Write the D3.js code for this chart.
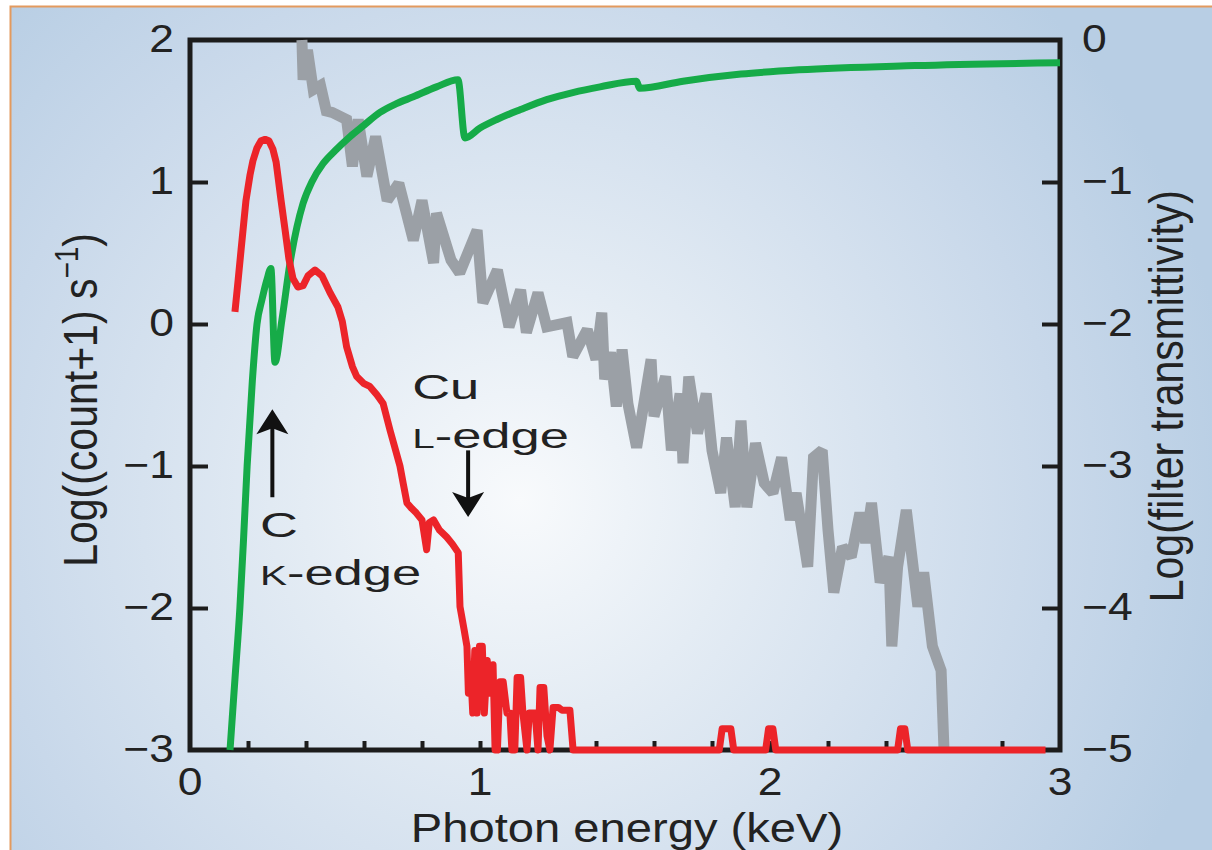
<!DOCTYPE html>
<html>
<head>
<meta charset="utf-8">
<script src="https://cdn.jsdelivr.net/npm/d3@7"></script>
<style>
  body { margin: 0; background: #fff; }
  svg { display: block; font-family: "Liberation Sans", Arial, Helvetica, sans-serif; }
  .tick-label { font-size: 38px; fill: #222; }
  .axis-title { font-size: 41px; fill: #222; }
  .note { font-size: 35px; fill: #222; }
</style>
</head>
<body>
<div id="chart-area"></div>
<script>
var W = 1212, H = 850;
var margin = { left: 190, right: 152, top: 40, bottom: 100 };
var width = W - margin.left - margin.right;   // 870
var height = H - margin.top - margin.bottom;  // 710
var stretch = 1.17;  // the original lettering is a wide face

// tick labels
var xTicks = [0, 1, 2, 3];
var xMinorTicks = [0.2, 0.4, 0.6, 0.8, 1, 1.2, 1.4, 1.6, 1.8, 2, 2.2, 2.4, 2.6, 2.8];
var leftTicks = [2, 1, 0, -1, -2, -3];
var rightTicks = [0, -1, -2, -3, -4, -5];

// measured spectrum, log((count+1)/s) vs keV
var redSpectrum = [
  [0.155, 0.085], [0.166, 0.31], [0.176, 0.52], [0.193, 0.87], [0.207, 1.05], [0.217, 1.15],
  [0.231, 1.24], [0.245, 1.29], [0.259, 1.3], [0.272, 1.29], [0.286, 1.23], [0.297, 1.14],
  [0.314, 0.87], [0.328, 0.66], [0.341, 0.46], [0.355, 0.32], [0.372, 0.26], [0.39, 0.27],
  [0.407, 0.34], [0.431, 0.38], [0.455, 0.34], [0.483, 0.22], [0.51, 0.12], [0.525, 0.02],
  [0.54, -0.16], [0.56, -0.3], [0.575, -0.37], [0.6, -0.42], [0.62, -0.44], [0.645, -0.5],
  [0.666, -0.56], [0.69, -0.75], [0.705, -0.86], [0.724, -1.0], [0.735, -1.12], [0.748, -1.26],
  [0.765, -1.3], [0.78, -1.33], [0.8, -1.38], [0.816, -1.59], [0.825, -1.4], [0.84, -1.38],
  [0.86, -1.45], [0.885, -1.5], [0.905, -1.55], [0.925, -1.61],
  [0.931, -1.99], [0.945, -2.15], [0.955, -2.27], [0.96, -2.6], [0.967, -2.4], [0.975, -2.74],
  [0.982, -2.3], [0.99, -2.74], [0.998, -2.27], [1.008, -2.27], [1.015, -2.74], [1.025, -2.37],
  [1.035, -2.6], [1.045, -2.4], [1.052, -3.0], [1.06, -3.0], [1.069, -2.52], [1.08, -2.52],
  [1.093, -2.74], [1.103, -2.74], [1.11, -3.0], [1.12, -3.0], [1.128, -2.49], [1.14, -2.49],
  [1.148, -2.74], [1.162, -3.0], [1.17, -2.74], [1.19, -2.74], [1.2, -3.0], [1.207, -2.56],
  [1.22, -2.56], [1.231, -2.9], [1.241, -3.0], [1.252, -2.7], [1.27, -2.7], [1.283, -2.72],
  [1.31, -2.72], [1.321, -3.0],
  [1.825, -3.0], [1.835, -2.85], [1.865, -2.85], [1.875, -3.0], [1.985, -3.0],
  [1.995, -2.85], [2.01, -2.85], [2.02, -3.0], [2.44, -3.0], [2.45, -2.85], [2.465, -2.85],
  [2.475, -3.0], [2.95, -3.0]
];

// background spectrum, log((count+1)/s) vs keV
var graySpectrum = [
  [0.386, 2.0], [0.39, 1.72], [0.405, 1.93], [0.425, 1.65], [0.45, 1.68], [0.47, 1.5],
  [0.49, 1.49], [0.54, 1.44], [0.56, 1.11], [0.58, 1.44], [0.61, 1.04], [0.64, 1.32],
  [0.68, 0.87], [0.72, 0.99], [0.77, 0.59], [0.8, 0.87], [0.84, 0.43], [0.85, 0.78],
  [0.9, 0.45], [0.93, 0.36], [0.99, 0.66], [1.01, 0.15], [1.06, 0.38], [1.1, -0.02],
  [1.14, 0.24], [1.16, -0.06], [1.2, 0.22], [1.23, -0.02], [1.3, 0.01], [1.32, -0.23],
  [1.37, -0.04], [1.4, -0.25], [1.42, 0.08], [1.43, -0.39], [1.45, -0.2], [1.47, -0.58],
  [1.49, -0.18], [1.51, -0.56], [1.54, -0.87], [1.59, -0.25], [1.6, -0.65], [1.64, -0.37],
  [1.66, -0.89], [1.69, -0.49], [1.7, -0.98], [1.72, -0.37], [1.75, -0.77], [1.78, -0.49],
  [1.8, -0.89], [1.83, -1.19], [1.85, -0.8], [1.88, -1.29], [1.9, -0.68], [1.92, -1.29],
  [1.95, -0.84], [1.98, -1.12], [2.01, -1.19], [2.04, -0.94], [2.07, -1.38], [2.09, -1.19],
  [2.13, -1.71], [2.15, -0.94], [2.18, -0.89], [2.2, -1.45], [2.22, -1.89], [2.25, -1.57],
  [2.28, -1.64], [2.31, -1.33], [2.33, -1.54], [2.35, -1.26], [2.38, -1.82], [2.41, -1.64],
  [2.42, -2.27], [2.44, -1.71], [2.47, -1.31], [2.51, -1.99], [2.53, -1.75], [2.56, -2.27],
  [2.59, -2.44], [2.6, -3.0]
];

// filter transmissivity, log, right axis
var greenFilter = [
  [0.138, -5.0], [0.155, -4.5], [0.172, -4.0], [0.185, -3.5], [0.197, -3.0], [0.215, -2.4],
  [0.231, -2.0], [0.248, -1.83], [0.265, -1.69], [0.279, -1.61], [0.293, -2.27], [0.317, -1.97],
  [0.345, -1.57], [0.39, -1.15], [0.42, -1.0], [0.459, -0.87], [0.5, -0.78], [0.552, -0.68],
  [0.6, -0.6], [0.655, -0.51], [0.71, -0.45], [0.77, -0.4], [0.85, -0.33], [0.924, -0.28],
  [0.948, -0.69], [1.0, -0.62], [1.058, -0.56], [1.14, -0.49], [1.23, -0.42], [1.32, -0.37],
  [1.414, -0.33], [1.54, -0.29], [1.55, -0.34], [1.7, -0.29], [1.9, -0.24], [2.1, -0.21],
  [2.5, -0.18], [3.0, -0.16]
];

// annotation arrows: energy, from, to (left axis units)
var arrows = [
  { e: 0.284, from: -1.22, to: -0.6 },
  { e: 0.959, from: -0.89, to: -1.36 }
];

var svg = d3.select("#chart-area").append("svg")
  .attr("width", W)
  .attr("height", H);

// background
var defs = svg.append("defs");
var grad = defs.append("radialGradient")
  .attr("id", "bg")
  .attr("gradientUnits", "userSpaceOnUse")
  .attr("cx", 520).attr("cy", 500).attr("r", 720);
grad.append("stop").attr("offset", "0").attr("stop-color", "#f8fafc");
grad.append("stop").attr("offset", "0.3").attr("stop-color", "#e4ecf4");
grad.append("stop").attr("offset", "0.75").attr("stop-color", "#c8d8ea");
grad.append("stop").attr("offset", "1").attr("stop-color", "#b8cee4");

svg.append("rect").attr("x", 0).attr("y", 0).attr("width", W).attr("height", H).attr("fill", "#fff");
svg.append("rect").attr("x", 10).attr("y", 6).attr("width", W - 10).attr("height", H - 6)
  .attr("fill", "url(#bg)");
svg.append("path").attr("d", "M10.5," + H + "V6.5H" + W)
  .attr("fill", "none").attr("stroke", "#e39a5e").attr("stroke-width", 2);

var g = svg.append("g")
  .attr("transform", "translate(" + margin.left + ", " + margin.top + ")");

var x = d3.scaleLinear().domain([0, 3]).range([0, width]);
var yL = d3.scaleLinear().domain([-3, 2]).range([height, 0]);
var yR = d3.scaleLinear().domain([-5, 0]).range([height, 0]);

var lineL = d3.line().x(function(d) { return x(d[0]); }).y(function(d) { return yL(d[1]); });
var lineR = d3.line().x(function(d) { return x(d[0]); }).y(function(d) { return yR(d[1]); })
  .curve(d3.curveMonotoneX);

// axes box and ticks
var axisColor = "#1c1c1c";

function styleTicks(s) {
  s.select(".domain").remove();
  s.selectAll(".tick line").attr("stroke", axisColor).attr("stroke-width", 4);
}

g.append("g")
  .attr("transform", "translate(0, " + height + ")")
  .call(d3.axisBottom(x).tickValues(xMinorTicks).tickSizeInner(-9).tickSizeOuter(0).tickFormat(""))
  .call(styleTicks);

g.append("g")
  .call(d3.axisLeft(yL).tickValues(leftTicks.slice(1, -1)).tickSizeInner(-18).tickSizeOuter(0).tickFormat(""))
  .call(styleTicks);

g.append("g")
  .attr("transform", "translate(" + width + ", 0)")
  .call(d3.axisRight(yR).tickValues(rightTicks.slice(1, -1)).tickSizeInner(-18).tickSizeOuter(0).tickFormat(""))
  .call(styleTicks);

g.append("rect")
  .attr("x", 0).attr("y", 0).attr("width", width).attr("height", height)
  .attr("fill", "none").attr("stroke", axisColor).attr("stroke-width", 5);

// curves
g.append("path")
  .datum(graySpectrum)
  .attr("d", lineL)
  .attr("fill", "none")
  .attr("stroke", "#9ba0a6")
  .attr("stroke-width", 11)
  .attr("stroke-linejoin", "miter")
  .attr("stroke-miterlimit", 2);

g.append("path")
  .datum(greenFilter)
  .attr("d", lineR)
  .attr("fill", "none")
  .attr("stroke", "#16ab48")
  .attr("stroke-width", 7)
  .attr("stroke-linejoin", "round");

g.append("path")
  .datum(redSpectrum)
  .attr("d", lineL)
  .attr("fill", "none")
  .attr("stroke", "#ec2429")
  .attr("stroke-width", 7)
  .attr("stroke-linejoin", "round");

// tick labels
function fmt(v) { return v < 0 ? "\u2212" + Math.abs(v) : String(v); }
function wide(px, py, k) { return "translate(" + px + "," + py + ") scale(" + (k || stretch) + ",1)"; }

g.selectAll(".xl").data(xTicks).enter().append("text")
  .attr("class", "tick-label")
  .attr("transform", function(d) { return wide(x(d), height + 45); })
  .attr("text-anchor", "middle")
  .text(fmt);

g.selectAll(".yl").data(leftTicks).enter().append("text")
  .attr("class", "tick-label")
  .attr("transform", function(d) { return wide(-16, yL(d) + 12); })
  .attr("text-anchor", "end")
  .text(fmt);

g.selectAll(".yr").data(rightTicks).enter().append("text")
  .attr("class", "tick-label")
  .attr("transform", function(d) { return wide(width + 22, yR(d) + 12); })
  .attr("text-anchor", "start")
  .text(fmt);

// axis titles
g.append("text")
  .attr("class", "axis-title")
  .attr("font-size", 40)
  .attr("transform", wide(width / 2 + 2, height + 92, 1.15))
  .attr("text-anchor", "middle")
  .text("Photon energy (keV)");

var lt = g.append("text")
  .attr("class", "axis-title")
  .attr("transform", "translate(-93, 193) scale(" + stretch + ",1) rotate(-90)")
  .attr("text-anchor", "end");
lt.append("tspan").text("Log((count+1) s");
lt.append("tspan").attr("dy", -16).attr("font-size", 28).text("\u22121");
lt.append("tspan").attr("dy", 16).text(")");

g.append("text")
  .attr("class", "axis-title")
  .attr("transform", "translate(" + (width + 123) + ", 150) scale(" + stretch + ",1) rotate(-90)")
  .attr("text-anchor", "end")
  .text("Log(filter transmittivity)");

// annotations
var head = "M0,0 L-16,25 L0,19 L16,25 Z";
arrows.forEach(function(a) {
  var up = a.to > a.from;
  var tipY = yL(a.to);
  g.append("line")
    .attr("x1", x(a.e)).attr("x2", x(a.e))
    .attr("y1", yL(a.from)).attr("y2", tipY + (up ? 12 : -12))
    .attr("stroke", "#111").attr("stroke-width", 4);
  g.append("path")
    .attr("d", head)
    .attr("transform", "translate(" + x(a.e) + "," + tipY + ")" + (up ? "" : " rotate(180)"))
    .attr("fill", "#111");
});

var noteStretch = 1.5;
function note(e, v, parts) {
  var t = g.append("text").attr("class", "note")
    .attr("transform", wide(x(e), yL(v), noteStretch));
  parts.forEach(function(p) {
    var s = t.append("tspan").text(p[0]);
    if (p[1]) s.attr("font-size", p[1]);
  });
}
note(0.241, -1.5, [["C"]]);
note(0.241, -1.84, [["K", 27], ["-edge"]]);
note(0.766, -0.53, [["Cu"]]);
note(0.766, -0.87, [["L", 27], ["-edge"]]);
</script>
</body>
</html>
